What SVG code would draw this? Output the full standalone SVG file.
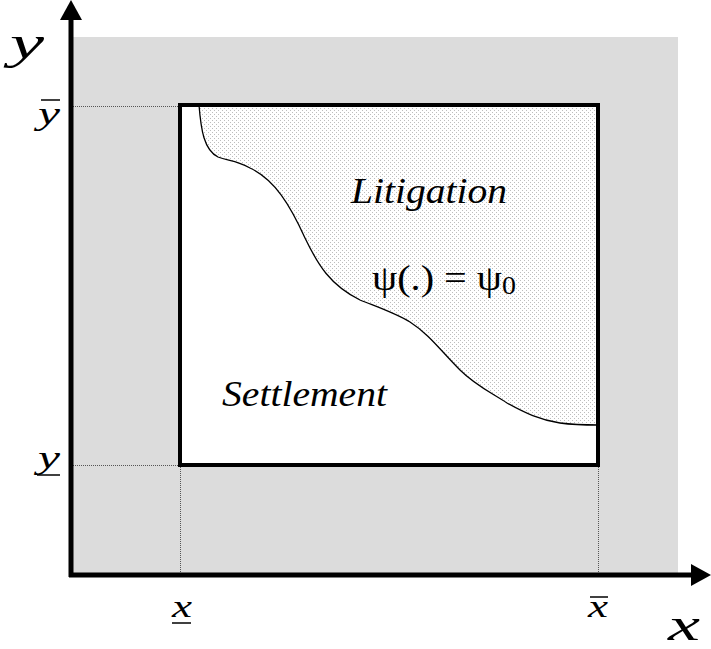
<svg xmlns="http://www.w3.org/2000/svg" width="711" height="649" viewBox="0 0 711 649">
<style>
.lbl{font-family:'Liberation Serif','DejaVu Serif','Times New Roman',serif;font-style:italic;fill:#000}
.rom{font-family:'Liberation Serif','DejaVu Serif','Times New Roman',serif;fill:#000}
.dot{stroke:#555;stroke-width:1;stroke-dasharray:1 1;fill:none}
</style>
<defs>
<pattern id="stip" width="4" height="4" patternUnits="userSpaceOnUse">
<rect width="4" height="4" fill="#fff"/>
<rect x="0" y="0" width="1" height="1" fill="#bdbdbd"/>
<rect x="2" y="2" width="1" height="1" fill="#bdbdbd"/>
</pattern>
</defs>
<rect id="bg" x="72" y="37" width="606" height="539" fill="#dcdcdc"/>
<g id="region">
<rect x="180" y="105" width="418" height="360" fill="#fff"/>
<path d="M199,105 C201,130 204,150 218,157 C228,161 236,160 250,168 C275,180 290,205 305,238 C318,265 330,285 360,300 C380,308 395,313 410,322 C430,335 440,350 460,370 C475,385 490,392 507,403 C525,413 540,420 560,423 C575,425 585,425 598,425 L598,105 Z" fill="url(#stip)"/>
<path d="M199,105 C201,130 204,150 218,157 C228,161 236,160 250,168 C275,180 290,205 305,238 C318,265 330,285 360,300 C380,308 395,313 410,322 C430,335 440,350 460,370 C475,385 490,392 507,403 C525,413 540,420 560,423 C575,425 585,425 598,425" fill="none" stroke="#000" stroke-width="1.3"/>
</g>
<g id="guides">
<line class="dot" x1="73" y1="106.5" x2="180" y2="106.5"/>
<line class="dot" x1="73" y1="465.5" x2="180" y2="465.5"/>
<line class="dot" x1="180.5" y1="465" x2="180.5" y2="575"/>
<line class="dot" x1="598.5" y1="465" x2="598.5" y2="575"/>
</g>
<g id="box">
<rect x="180" y="105" width="418" height="360" fill="none" stroke="#000" stroke-width="4"/>
</g>
<g id="axes">
<line x1="71" y1="577" x2="71" y2="20" stroke="#000" stroke-width="5"/>
<path d="M71,0 L60,20 L82,20 Z" fill="#000"/>
<line x1="69" y1="575" x2="692" y2="575" stroke="#000" stroke-width="5"/>
<path d="M711,575 L691,564 L691,586 Z" fill="#000"/>
</g>
<g id="labels">
<text class="lbl" x="10" y="58" font-size="46" textLength="34" lengthAdjust="spacingAndGlyphs">y</text>
<text class="lbl" x="668" y="640" font-size="46" textLength="32" lengthAdjust="spacingAndGlyphs">x</text>
<text class="lbl" x="38" y="124" font-size="32" textLength="22" lengthAdjust="spacingAndGlyphs">y</text>
<line x1="41" y1="100" x2="60" y2="100" stroke="#000" stroke-width="1.5"/>
<text class="lbl" x="38" y="468" font-size="32" textLength="22" lengthAdjust="spacingAndGlyphs">y</text>
<line x1="37" y1="475" x2="60" y2="475" stroke="#000" stroke-width="1.5"/>
<text class="lbl" x="172" y="617" font-size="32" textLength="20" lengthAdjust="spacingAndGlyphs">x</text>
<line x1="172" y1="623" x2="191" y2="623" stroke="#000" stroke-width="1.5"/>
<text class="lbl" x="588" y="617" font-size="32" textLength="20" lengthAdjust="spacingAndGlyphs">x</text>
<line x1="590" y1="597" x2="608" y2="597" stroke="#000" stroke-width="1.5"/>
<text class="lbl" x="351" y="203" font-size="36" textLength="156" lengthAdjust="spacingAndGlyphs">Litigation</text>
<text class="lbl" x="222" y="406" font-size="36" textLength="165" lengthAdjust="spacingAndGlyphs">Settlement</text>
<text class="rom" x="372" y="290" font-size="36" textLength="144" lengthAdjust="spacingAndGlyphs">ψ(.) = ψ<tspan font-size="25" dy="4">0</tspan></text>
</g>
</svg>
